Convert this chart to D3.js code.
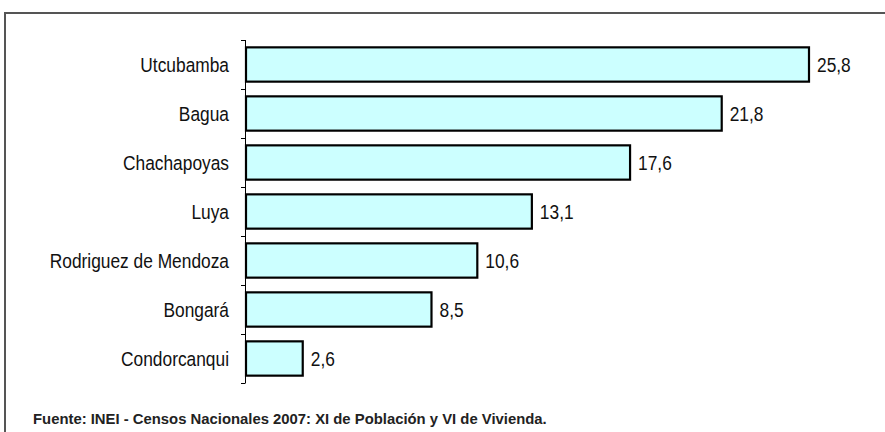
<html>
<head>
<script src="https://d3js.org/d3.v7.min.js"></script>
<style>
body{margin:0;background:#fff;}
text{font-family:"Liberation Sans",Arial,sans-serif;fill:#111;}
</style>
</head>
<body>
<script>
// provincias y porcentaje
var provincias=["Utcubamba","Bagua","Chachapoyas","Luya","Rodriguez de Mendoza","Bongará","Condorcanqui"];
var valores=[25.8,21.8,17.6,13.1,10.6,8.5,2.6];
var fuente="Fuente: INEI - Censos Nacionales 2007: XI de Población y VI de Vivienda.";

var W=885,H=432;
var narrow=0.89; // no hay Arial Narrow, se comprime la Liberation Sans
var svg=d3.select("body").append("svg").attr("width",W).attr("height",H);

// marco
svg.append("path")
	.attr("d","M5,"+(H+2)+"V13H"+(W+2))
	.attr("fill","none").attr("stroke","#555").attr("stroke-width",2);

var x0=246;
var x=d3.scaleLinear().domain([0,25.8]).range([x0,809]);
var y=d3.scaleBand().domain(provincias).range([40,383]).paddingInner(0.3).paddingOuter(0.15);

// eje con marcas entre categorias
var g=svg.append("g");
g.append("line").attr("x1",x0-0.5).attr("x2",x0-0.5).attr("y1",40).attr("y2",383)
	.attr("stroke","#000").attr("stroke-width",1);
var bounds=d3.range(provincias.length+1).map(i=>40+i*(343/provincias.length));
g.selectAll(".tk").data(bounds).enter().append("line")
	.attr("x1",x0-5).attr("x2",x0-0.5)
	.attr("y1",d=>Math.round(d)+0.5).attr("y2",d=>Math.round(d)+0.5)
	.attr("stroke","#000");

svg.selectAll(".bar").data(provincias).enter().append("rect")
	.attr("x",x0)
	.attr("y",d=>y(d))
	.attr("width",(d,i)=>x(valores[i])-x0)
	.attr("height",y.bandwidth())
	.attr("fill","#ccffff")
	.attr("stroke","#000").attr("stroke-width",2.2);

svg.selectAll(".lab").data(provincias).enter().append("text")
	.attr("transform",d=>"translate(229,"+(y(d)+y.bandwidth()/2)+") scale("+narrow+",1)")
	.attr("dy","0.36em")
	.attr("text-anchor","end")
	.style("font-size","19.5px")
	.text(d=>d);

svg.selectAll(".val").data(provincias).enter().append("text")
	.attr("transform",(d,i)=>"translate("+(x(valores[i])+8)+","+(y(d)+y.bandwidth()/2)+") scale("+narrow+",1)")
	.attr("dy","0.36em")
	.style("font-size","19.5px")
	.text((d,i)=>d3.format(".1f")(valores[i]).replace(".",","));

var f=svg.append("text")
	.style("font-size","15.5px").style("font-weight","bold").style("fill","#222")
	.text(fuente);
var fw=f.node().getComputedTextLength();
f.attr("transform","translate(33,424) scale("+(514/fw)+",1)");
</script>
</body>
</html>
